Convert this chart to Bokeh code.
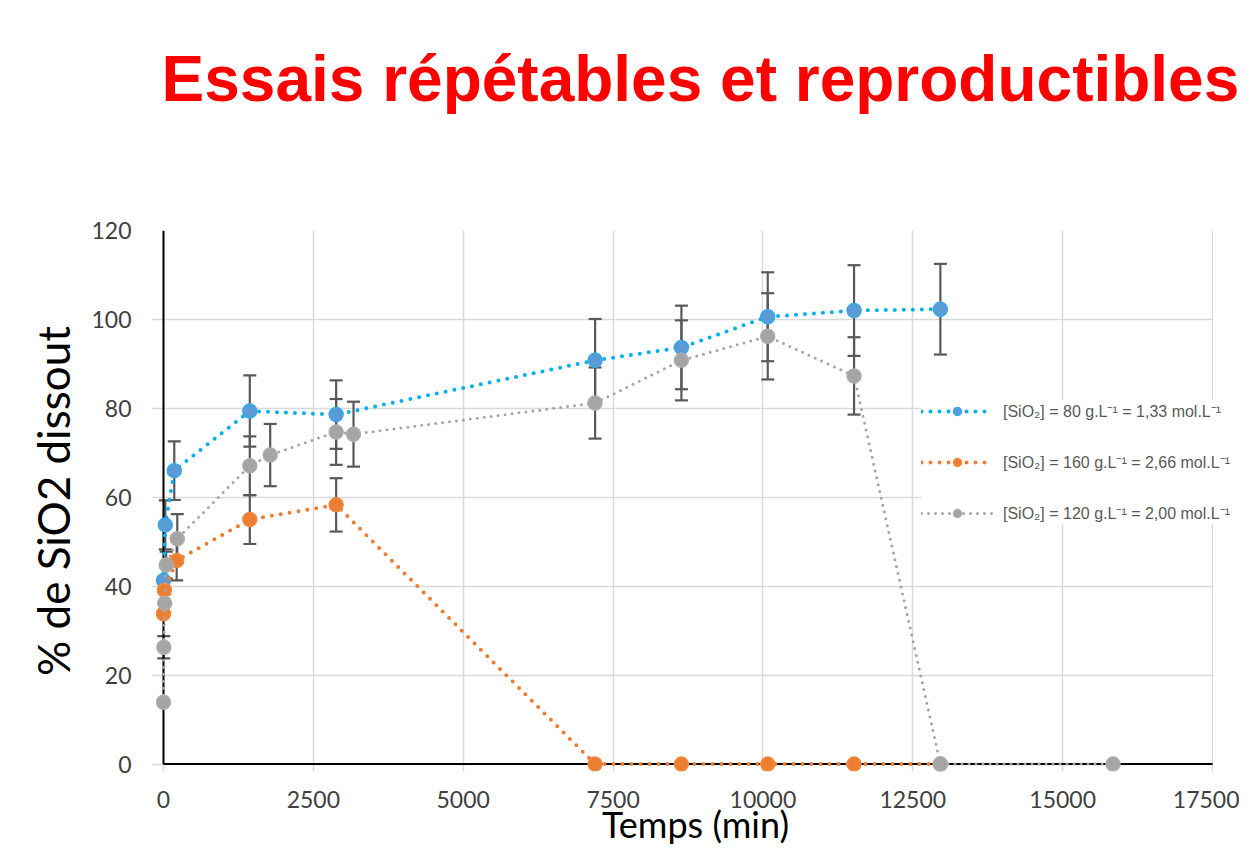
from bokeh.plotting import figure
from bokeh.models import (ColumnDataSource, Whisker, TeeHead, Legend, BoxAnnotation,
                          LegendItem, FixedTicker, Range1d, Title)
from bokeh.embed import file_html
from bokeh.resources import INLINE

# ---- data ----
t_80 = [0, 30, 180, 1440, 2880, 7200, 8640, 10080, 11520, 12960]
y_80 = [41.3, 53.8, 66.0, 79.4, 78.6, 90.8, 93.7, 100.6, 102.0, 102.3]
e_80 = [0, 5.5, 6.6, 8.0, 7.7, 9.3, 9.4, 10.0, 10.2, 10.2]

t_160 = [0, 15, 220, 1440, 2880, 7200, 8640, 10080, 11520, 12960]
y_160 = [33.8, 39.1, 45.8, 55.0, 58.3, 0, 0, 0, 0, 0]
e_160 = [0, 2.5, 4.5, 5.5, 6.0, 0, 0, 0, 0, 0]

t_120 = [0, 5, 20, 45, 230, 1440, 1780, 2880, 3170, 7200, 8640, 10080, 11520, 12960, 15840]
y_120 = [13.9, 26.3, 36.2, 44.8, 50.7, 67.1, 69.5, 74.7, 74.2, 81.2, 90.8, 96.2, 87.3, 0, 0]
e_120 = [0, 2.5, 2.0, 3.0, 5.5, 6.6, 7.0, 7.4, 7.3, 8.0, 9.0, 9.7, 8.7, 0, 0]

x_ticks = [0, 2500, 5000, 7500, 10000, 12500, 15000, 17500]
y_ticks = [0, 20, 40, 60, 80, 100, 120]

labels = ["[SiO\u2082] = 80 g.L\u207b\u00b9 = 1,33 mol.L\u207b\u00b9",
          "[SiO\u2082] = 160 g.L\u207b\u00b9 = 2,66 mol.L\u207b\u00b9",
          "[SiO\u2082] = 120 g.L\u207b\u00b9 = 2,00 mol.L\u207b\u00b9"]

title_text = "Essais répétables et reproductibles"
x_label = "Temps (min)"
y_label = "% de SiO2 dissout"

# ---- figure ----
p = figure(width=1239, height=848,
           x_range=Range1d(-200, 17950), y_range=Range1d(-1.66, 120),
           output_backend="svg", toolbar_location=None,
           min_border_left=151, min_border_right=0,
           min_border_top=230, min_border_bottom=60)
p.outline_line_color = None
p.background_fill_color = "white"

# spacer (closest to the frame) then the red title above it
p.add_layout(Title(text=" ", text_font_size="10px", standoff=103), "above")
p.add_layout(Title(text=title_text, align="left", offset=10, standoff=0,
                   text_font="Liberation Sans", text_font_size="64px",
                   text_font_style="bold", text_color="#FF0000"), "above")

p.xaxis.ticker = FixedTicker(ticks=x_ticks)
p.yaxis.ticker = FixedTicker(ticks=y_ticks)
for ax in (p.xaxis, p.yaxis):
    ax.axis_line_color = None
    ax.major_tick_line_color = None
    ax.minor_tick_line_color = None
    ax.major_label_text_font = "Lato"
    ax.major_label_text_font_size = "23px"
    ax.major_label_text_color = "#404040"
    ax.axis_label_text_font = "Lato"
    ax.axis_label_text_font_style = "normal"
    ax.axis_label_text_color = "#000000"
p.xaxis.major_label_standoff = 13
p.yaxis.major_label_standoff = 14

p.yaxis.axis_label = y_label
p.yaxis.axis_label_text_font_size = "44px"
p.yaxis.axis_label_standoff = 9

p.xaxis.axis_label = x_label
p.xaxis.axis_label_text_font_size = "36px"
p.xaxis.axis_label_standoff = -9

p.xgrid.grid_line_color = "#D9D9D9"
p.ygrid.grid_line_color = "#D9D9D9"
p.xgrid.grid_line_width = 1.5
p.ygrid.grid_line_width = 1.5

# plot area ends at the last tick: blank out what lies beyond it
p.add_layout(BoxAnnotation(left=x_ticks[-1] + 12, fill_color="white", fill_alpha=1.0,
                           line_color=None, level="underlay"))
# black axis lines along x = 0 and y = 0 (drawn first among the glyphs)
p.segment(x0=[x_ticks[0], x_ticks[0]], y0=[y_ticks[0], y_ticks[0]],
          x1=[x_ticks[-1], x_ticks[0]], y1=[y_ticks[0], y_ticks[-1]],
          line_color="black", line_width=2)

# error bars
def add_err(t, y, e):
    xs = [a for a, c in zip(t, e) if c > 0]
    lo = [b - c for b, c in zip(y, e) if c > 0]
    hi = [b + c for b, c in zip(y, e) if c > 0]
    src = ColumnDataSource(dict(x=xs, lower=lo, upper=hi))
    w = Whisker(source=src, base="x", lower="lower", upper="upper", dimension="height",
                line_color="#595959", line_width=2.2,
                upper_head=TeeHead(size=13, line_color="#595959", line_width=2.2),
                lower_head=TeeHead(size=13, line_color="#595959", line_width=2.2))
    p.add_layout(w)

add_err(t_80, y_80, e_80)
add_err(t_160, y_160, e_160)
add_err(t_120, y_120, e_120)

series = [
    (t_80, y_80, "#00B0F0", "#5B9BD5", "#3AA8E6", 4, "0 9"),
    (t_160, y_160, "#ED7D31", "#ED7D31", "#F08A40", 4, "0 9"),
    (t_120, y_120, "#A5A5A5", "#A5A5A5", "#ADADAD", 3, "0 7"),
]
items = []
for (t, y, lc, fc, mc, lw, dash), lab in zip(series, labels):
    src = ColumnDataSource(dict(t=t, y=y))
    lr = p.line("t", "y", source=src, line_color=lc, line_width=lw,
                line_dash=dash, line_cap="round")
    sr = p.scatter("t", "y", source=src, marker="circle", size=14,
                   fill_color=fc, line_color=mc, line_width=1.5)
    items.append(LegendItem(label=lab, renderers=[lr, sr]))

legend = Legend(items=items, location=(770, 247), margin=0, padding=15,
                spacing=29, glyph_width=72, glyph_height=20, label_height=20,
                label_standoff=10, label_text_font="Liberation Sans",
                label_text_font_size="16px", label_text_color="#595959",
                background_fill_color="white", background_fill_alpha=1.0,
                border_line_color=None)
p.add_layout(legend)

open("out.html", "w").write(file_html(p, INLINE))
